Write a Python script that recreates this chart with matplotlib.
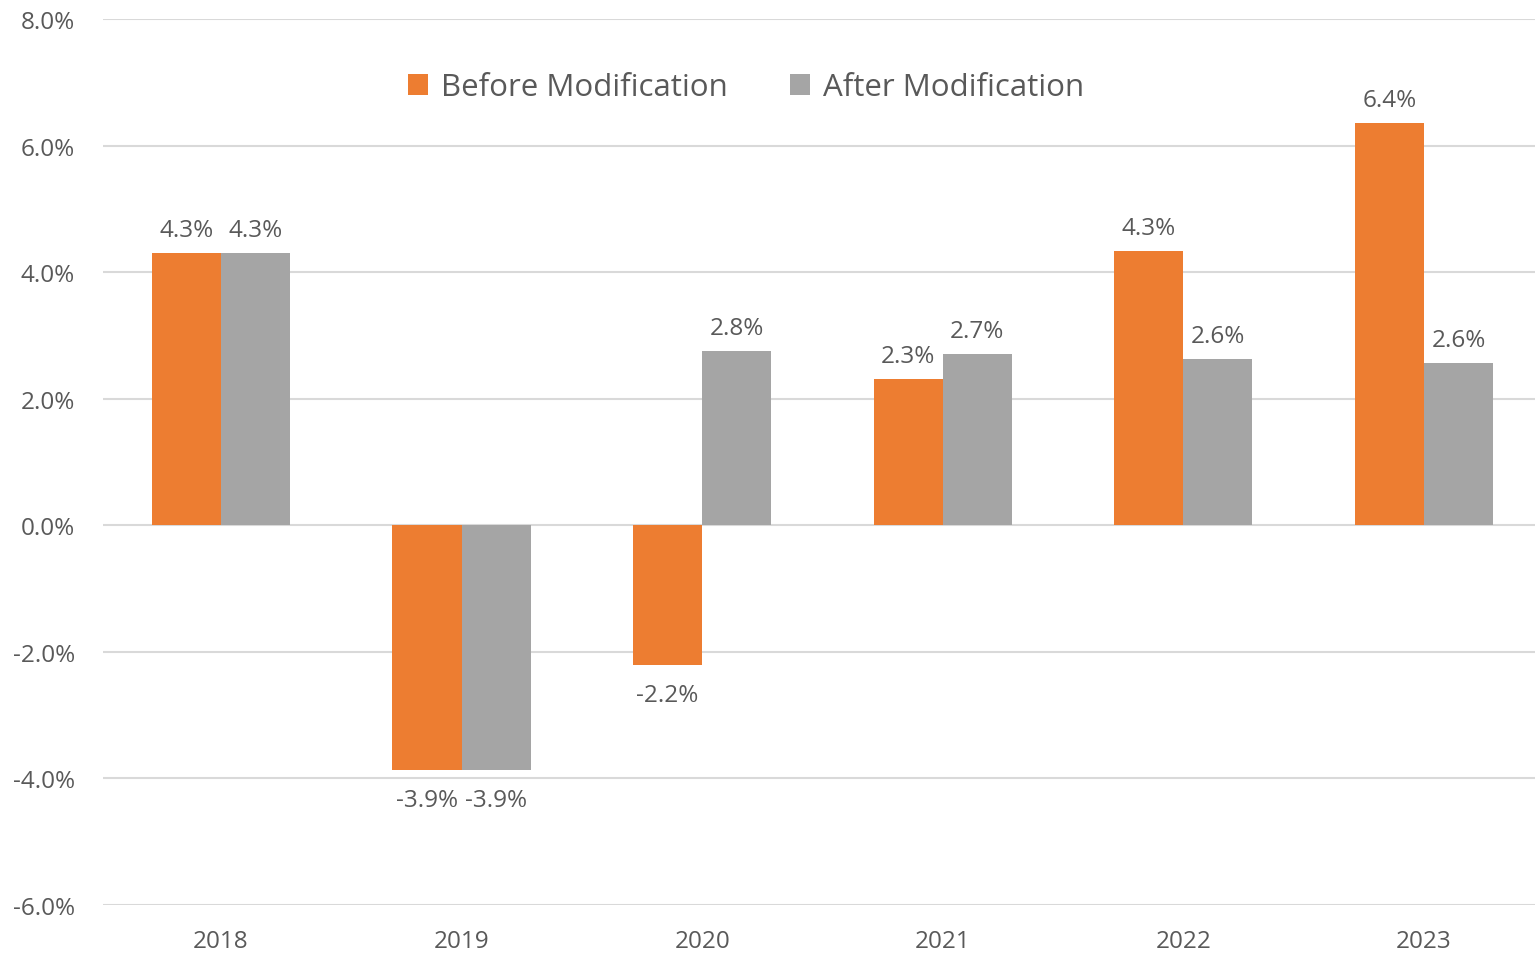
import matplotlib
matplotlib.use("Agg")
import matplotlib.pyplot as plt
import numpy as np

years = ["2018", "2019", "2020", "2021", "2022", "2023"]
before = [4.30, -3.87, -2.20, 2.31, 4.34, 6.36]
after = [4.30, -3.87, 2.76, 2.70, 2.62, 2.56]
yticks = [-6, -4, -2, 0, 2, 4, 6, 8]

ORANGE = "#ED7D31"
GRAY = "#A5A5A5"
TEXT = "#595959"

plt.rcParams["font.family"] = ["Open Sans", "DejaVu Sans"]

fig = plt.figure(figsize=(15.35, 9.54), dpi=100)
ax = fig.add_axes([103 / 1535, 48 / 954, 1432 / 1535, 886 / 954])

x = np.arange(len(years))
w = 0.287
b1 = ax.bar(x - w / 2, before, w, color=ORANGE, label="Before Modification", zorder=3)
b2 = ax.bar(x + w / 2, after, w, color=GRAY, label="After Modification", zorder=3)

# value labels above / below each bar
for bars, vals in ((b1, before), (b2, after)):
    for rect, v in zip(bars, vals):
        cx = rect.get_x() + rect.get_width() / 2
        if v >= 0:
            ax.annotate(f"{v:.1f}%", (cx, v), xytext=(0, 8), textcoords="offset points",
                        ha="center", va="bottom", fontsize=17.5, color=TEXT)
        else:
            ax.annotate(f"{v:.1f}%", (cx, v), xytext=(0, -13), textcoords="offset points",
                        ha="center", va="top", fontsize=17.5, color=TEXT)

ax.set_xlim(-0.49, 5.461)
ax.set_ylim(-6, 8)
ax.set_yticks(yticks)
ax.set_yticklabels([f"{t:.1f}%" for t in yticks])
ax.set_xticks(x)
ax.set_xticklabels(years)
ax.tick_params(axis="both", length=0, labelsize=17.5, labelcolor=TEXT)
ax.tick_params(axis="x", pad=17)
ax.tick_params(axis="y", pad=20)
ax.grid(axis="y", color="#D9D9D9", linewidth=1.5, zorder=0)
for s in ax.spines.values():
    s.set_visible(False)

ax.legend(loc="center", bbox_to_anchor=(0.449, 0.923), ncol=2, frameon=False,
          fontsize=22.5, labelcolor=TEXT, handlelength=0.65, handleheight=0.65,
          handletextpad=0.4, columnspacing=2.0)

fig.savefig("out.png", dpi=100)
